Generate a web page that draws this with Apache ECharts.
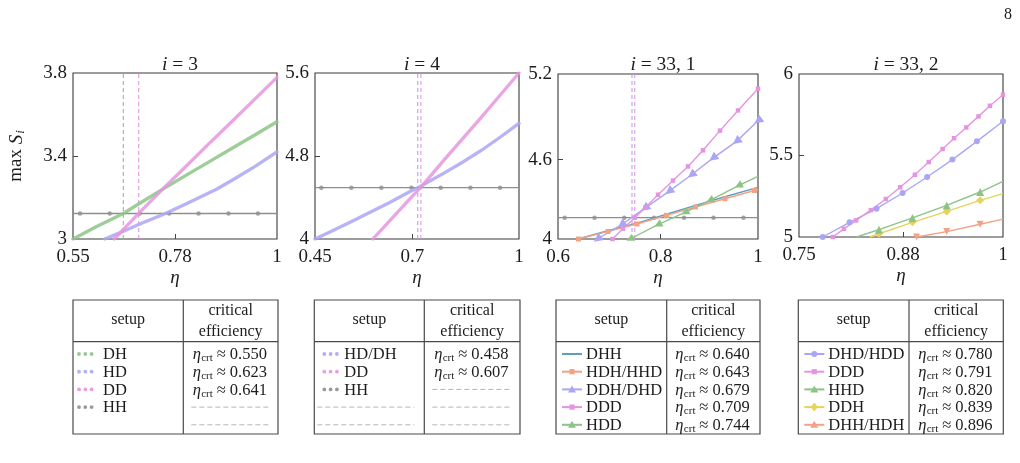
<!DOCTYPE html>
<html>
<head>
<meta charset="utf-8">
<script src="https://cdn.jsdelivr.net/npm/echarts@6/dist/echarts.min.js"></script>
<style>
  html, body { margin: 0; padding: 0; background: #fff; }
  #main { width: 1020px; height: 463px; }
</style>
</head>
<body>
<div id="main"></div>
<script>
// ---- panel i = 3 ----
const p1XTicks = [0.55, 0.775, 1];
const p1XLabels = ['0.55', '0.78', '1'];
const p1YTicks = [3, 3.4, 3.8];
const p1YLabels = ['3', '3.4', '3.8'];
const p1DHEta = [0.55, 0.60, 0.661, 0.70, 0.75, 0.80, 0.85, 0.90, 0.95, 1.0];
const p1DH = [3.0, 3.058, 3.123, 3.176, 3.243, 3.308, 3.372, 3.436, 3.50, 3.565];
const p1HDEta = [0.62, 0.65, 0.70, 0.754, 0.80, 0.8665, 0.90, 0.95, 1.0];
const p1HD = [3.0, 3.027, 3.075, 3.123, 3.17, 3.24, 3.282, 3.348, 3.42];
const p1DDEta = [0.641, 0.695, 0.75, 0.80, 0.85, 0.90, 0.95, 1.0];
const p1DD = [3.0, 3.123, 3.245, 3.352, 3.46, 3.565, 3.672, 3.779];
const p1HH = 3.123;
const p1HHMarks = [0.5655, 0.631, 0.697, 0.762, 0.827, 0.893, 0.958];
const p1Cross = [0.661, 0.695];   // green, pink

// ---- panel i = 4 ----
const p2XTicks = [0.45, 0.7125, 1];
const p2XLabels = ['0.45', '0.7', '1'];
const p2YTicks = [4, 4.8, 5.6];
const p2YLabels = ['4', '4.8', '5.6'];
const p2HDEta = [0.45, 0.5, 0.55, 0.6, 0.65, 0.7, 0.728, 0.75, 0.8, 0.85, 0.9, 0.95, 1.0];
const p2HD = [4.0, 4.085, 4.172, 4.26, 4.35, 4.445, 4.495, 4.54, 4.64, 4.745, 4.858, 4.983, 5.115];
const p2DDEta = [0.606, 0.65, 0.7, 0.7346, 0.8, 0.85, 0.9, 0.95, 1.0];
const p2DD = [4.0, 4.17, 4.365, 4.495, 4.77, 4.975, 5.18, 5.39, 5.6];
const p2HH = 4.495;
const p2HHMarks = [0.467, 0.548, 0.629, 0.71, 0.789, 0.869, 0.949];
const p2Cross = [0.727, 0.7355];  // purple, pink

// ---- panel i = 33,1 ----
const p3XTicks = [0.6, 0.805, 1];
const p3XLabels = ['0.6', '0.8', '1'];
const p3YTicks = [4, 4.577, 5.2];
const p3YLabels = ['4', '4.6', '5.2'];
const p3DHHEta = [0.64, 0.70, 0.758, 0.817, 0.875, 0.934, 1.0];
const p3DHH = [4.0, 4.06, 4.115, 4.18, 4.244, 4.307, 4.375];
const p3HDHEta = [0.641, 0.70, 0.758, 0.817, 0.875, 0.934, 0.993, 1.0];
const p3HDH = [4.0, 4.055, 4.109, 4.172, 4.233, 4.293, 4.353, 4.36];
const p3DDHEta = [0.679, 0.727, 0.774, 0.822, 0.867, 0.91, 0.957, 1.0];
const p3DDH = [4.0, 4.104, 4.225, 4.346, 4.467, 4.588, 4.71, 4.86];
const p3DDDEta = [0.709, 0.73, 0.7535, 0.775, 0.80, 0.83, 0.86, 0.89, 0.924, 0.96, 1.0];
const p3DDD = [4.0, 4.075, 4.155, 4.23, 4.322, 4.425, 4.528, 4.645, 4.788, 4.935, 5.093];
const p3HDDEta = [0.744, 0.80, 0.854, 0.904, 0.961, 1.0];
const p3HDD = [4.0, 4.104, 4.193, 4.281, 4.388, 4.455];
const p3HH = 4.155;
const p3HHMarks = [0.6134, 0.673, 0.7325, 0.792, 0.852, 0.911, 0.971];
const p3Cross = [0.748, 0.7535];  // purple, pink

// ---- panel i = 33,2 ----
const p4XTicks = [0.75, 0.8775, 1];
const p4XLabels = ['0.75', '0.88', '1'];
const p4YTicks = [5, 5.5, 6];
const p4YLabels = ['5', '5.5', '6'];
const p4DHDEta = [0.779, 0.812, 0.845, 0.877, 0.907, 0.938, 0.968, 1.0];
const p4DHD = [5.0, 5.09, 5.174, 5.27, 5.368, 5.475, 5.587, 5.71];
const p4DDDEta = [0.7915, 0.805, 0.82, 0.838, 0.8564, 0.874, 0.892, 0.909, 0.926, 0.94, 0.955, 0.97, 0.984, 1.0];
const p4DDD = [5.0, 5.05, 5.102, 5.165, 5.233, 5.305, 5.382, 5.46, 5.54, 5.606, 5.672, 5.74, 5.805, 5.873];
const p4HHDEta = [0.8204, 0.848, 0.889, 0.931, 0.972, 1.0];
const p4HHD = [5.0, 5.045, 5.117, 5.194, 5.276, 5.341];
const p4DDHEta = [0.837, 0.848, 0.889, 0.931, 0.972, 1.0];
const p4DDH = [5.0, 5.02, 5.09, 5.157, 5.225, 5.266];
const p4DHHEta = [0.894, 0.931, 0.972, 1.0];
const p4DHH = [5.0, 5.033, 5.078, 5.11];

// ---- tables ----
const t1Setup = ['DH', 'HD', 'DD', 'HH'];
const t1Crt = ['0.550', '0.623', '0.641'];
const t2Setup = ['HD/DH', 'DD', 'HH'];
const t2Crt = ['0.458', '0.607'];
const t3Setup = ['DHH', 'HDH/HHD', 'DDH/DHD', 'DDD', 'HDD'];
const t3Crt = ['0.640', '0.643', '0.679', '0.709', '0.744'];
const t4Setup = ['DHD/HDD', 'DDD', 'HHD', 'DDH', 'DHH/HDH'];
const t4Crt = ['0.780', '0.791', '0.820', '0.839', '0.896'];

const FONT = 'Liberation Serif';
const INK = '#1c1c1c';
const C = {
  green: '#8cc486', purple: '#aaa6f5', pink: '#e595df', gray: '#8e8e8e',
  orange: '#f2a285', blue: '#5f9dbf', yellow: '#e6d35c'
};

const grids = [
  { left: 73, top: 73, width: 204, height: 166 },
  { left: 315, top: 73, width: 204, height: 166 },
  { left: 558, top: 74, width: 200, height: 165 },
  { left: 799, top: 74, width: 204, height: 163 }
];

function pick(ticks, labels) {
  return function (v) {
    let best = 0;
    for (let i = 1; i < ticks.length; i++) {
      if (Math.abs(ticks[i] - v) < Math.abs(ticks[best] - v)) best = i;
    }
    return labels[best];
  };
}

function xAxis(g, ticks, labels) {
  return {
    type: 'value', gridIndex: g, min: ticks[0], max: ticks[ticks.length - 1],
    axisLine: { show: false }, splitLine: { show: false },
    axisTick: { show: true, inside: true, length: 5, customValues: [ticks[1]], lineStyle: { color: '#444' } },
    axisLabel: { customValues: ticks, formatter: pick(ticks, labels), margin: 9,
      fontFamily: FONT, fontSize: 19, color: INK },
    name: 'η', nameLocation: 'middle', nameGap: 29,
    nameTextStyle: { fontFamily: FONT, fontSize: 19, fontStyle: 'italic', color: INK }
  };
}

function yAxis(g, ticks, labels, name) {
  const ax = {
    type: 'value', gridIndex: g, min: ticks[0], max: ticks[ticks.length - 1],
    axisLine: { show: false }, splitLine: { show: false },
    axisTick: { show: true, inside: true, length: 5, customValues: [ticks[1]], lineStyle: { color: '#444' } },
    axisLabel: { customValues: ticks, formatter: pick(ticks, labels), margin: 6,
      fontFamily: FONT, fontSize: 19, color: INK }
  };
  if (name) {
    ax.name = 'max {s|S}{i|i}';
    ax.nameLocation = 'middle';
    ax.nameGap = 46;
    ax.nameTextStyle = {
      fontFamily: FONT, fontSize: 19, color: INK,
      rich: {
        s: { fontFamily: FONT, fontSize: 19, fontStyle: 'italic', color: INK },
        i: { fontFamily: FONT, fontSize: 13, fontStyle: 'italic', color: INK, padding: [8, 0, 0, 1] }
      }
    };
  }
  return ax;
}

function pts(eta, s, bareFirst, bareLast) {
  return eta.map((x, i) => {
    const item = { value: [x, s[i]] };
    if ((i === 0 && bareFirst) || (i === eta.length - 1 && bareLast)) item.symbol = 'none';
    return item;
  });
}

// dashed vertical at a crossing value, spanning the panel height
function vline(g, x, yTicks, color) {
  return {
    type: 'line', xAxisIndex: g, yAxisIndex: g, silent: true,
    data: [[x, yTicks[0]], [x, yTicks[yTicks.length - 1]]], symbol: 'none', z: 1,
    lineStyle: { color: color, width: 1.1, type: [4, 3] }
  };
}

// thick dotted-look curves for i = 3 and i = 4
function thick(g, eta, s, color) {
  return {
    type: 'line', xAxisIndex: g, yAxisIndex: g, data: pts(eta, s),
    symbol: 'none', z: 3,
    lineStyle: { color: color, width: 3.3, opacity: 0.85, cap: 'round', join: 'round' }
  };
}

function marked(g, eta, s, color, symbol, size, opts) {
  opts = opts || {};
  return {
    type: 'line', xAxisIndex: g, yAxisIndex: g,
    data: pts(eta, s, opts.bareFirst, opts.bareLast),
    symbol: symbol, symbolSize: size,
    symbolRotate: opts.rotate || 0, showSymbol: symbol !== 'none', z: opts.z || 4,
    lineStyle: { color: color, width: 1.4, join: 'round' },
    itemStyle: { color: color }
  };
}

function hh(g, level, marks, min, max) {
  return [
    { type: 'line', xAxisIndex: g, yAxisIndex: g, data: [[min, level], [max, level]],
      symbol: 'none', z: 2, lineStyle: { color: C.gray, width: 1.3 } },
    { type: 'scatter', xAxisIndex: g, yAxisIndex: g, data: marks.map(x => [x, level]),
      symbol: 'circle', symbolSize: 4.5, z: 2, itemStyle: { color: C.gray } }
  ];
}

const series = [];
// panel 1
series.push(...hh(0, p1HH, p1HHMarks, 0.55, 1));
series.push(vline(0, p1Cross[0], p1YTicks, C.green), vline(0, p1Cross[1], p1YTicks, C.pink));
series.push(thick(0, p1DHEta, p1DH, C.green), thick(0, p1HDEta, p1HD, C.purple), thick(0, p1DDEta, p1DD, C.pink));
// panel 2
series.push(...hh(1, p2HH, p2HHMarks, 0.45, 1));
series.push(vline(1, p2Cross[0], p2YTicks, C.purple), vline(1, p2Cross[1], p2YTicks, C.pink));
series.push(thick(1, p2HDEta, p2HD, C.purple), thick(1, p2DDEta, p2DD, C.pink));
// panel 3
series.push(...hh(2, p3HH, p3HHMarks, 0.6, 1));
series.push(vline(2, p3Cross[0], p3YTicks, C.purple), vline(2, p3Cross[1], p3YTicks, C.pink));
series.push(marked(2, p3DHHEta, p3DHH, C.blue, 'none', 0));
series.push(marked(2, p3HDHEta, p3HDH, C.orange, 'rect', 5, { bareLast: true }));
series.push(marked(2, p3DDHEta, p3DDH, C.purple, 'triangle', 9, { rotate: 127 }));
series.push(marked(2, p3DDDEta, p3DDD, C.pink, 'rect', 4.5));
series.push(marked(2, p3HDDEta, p3HDD, C.green, 'triangle', 8, { bareLast: true, rotate: 116 }));
// panel 4
series.push(marked(3, p4DHHEta, p4DHH, C.orange, 'triangle', 7, { bareLast: true, rotate: 180 }));
series.push(marked(3, p4DDHEta, p4DDH, C.yellow, 'diamond', 8, { bareFirst: true, bareLast: true }));
series.push(marked(3, p4HHDEta, p4HHD, C.green, 'triangle', 8, { bareFirst: true, bareLast: true }));
series.push(marked(3, p4DHDEta, p4DHD, C.purple, 'circle', 6));
series.push(marked(3, p4DDDEta, p4DDD, C.pink, 'rect', 4.5));

const titles = [
  { text: '{i|i} = 3', x: 175 },
  { text: '{i|i} = 4', x: 417 },
  { text: '{i|i} = 33, 1', x: 658 },
  { text: '{i|i} = 33, 2', x: 901 }
].map(t => ({
  text: t.text, left: t.x, top: 50, textAlign: 'center',
  textStyle: { fontFamily: FONT, fontSize: 19.5, fontWeight: 'normal', color: INK,
    rich: { i: { fontFamily: FONT, fontSize: 19.5, fontStyle: 'italic', color: INK } } }
}));

// ---- table drawing ----
const graphic = [];
function txt(x, y, text, size, align, italic, color) {
  graphic.push({ type: 'text', x: x, y: y, silent: true,
    style: { text: text, fill: color || INK, fontFamily: FONT, fontSize: size,
      fontStyle: italic ? 'italic' : 'normal', textAlign: align || 'left', textVerticalAlign: 'middle' } });
}
function seg(x1, y1, x2, y2, color, width, dash) {
  graphic.push({ type: 'line', silent: true, shape: { x1: x1, y1: y1, x2: x2, y2: y2 },
    style: { stroke: color, lineWidth: width, lineDash: dash || null } });
}
function marker(kind, cx, cy, color) {
  let el;
  if (kind === 'circle') el = { type: 'circle', shape: { cx: cx, cy: cy, r: 3 } };
  else if (kind === 'rect') el = { type: 'rect', shape: { x: cx - 2.6, y: cy - 2.6, width: 5.2, height: 5.2 } };
  else if (kind === 'triangle') el = { type: 'polygon', shape: { points: [[cx, cy - 4], [cx - 4, cy + 3], [cx + 4, cy + 3]] } };
  else if (kind === 'diamond') el = { type: 'polygon', shape: { points: [[cx, cy - 4.5], [cx - 3.5, cy], [cx, cy + 4.5], [cx + 3.5, cy]] } };
  else return;
  el.silent = true;
  el.style = { fill: color };
  graphic.push(el);
}

const ROW0 = 354, ROWH = 17.7, TOP = 300, BOT = 434, HEAD = 341.7;
function table(x0, x1, xd, setups, icons, crts, iconX, blankL, blankR) {
  graphic.push({ type: 'rect', silent: true, shape: { x: x0, y: TOP, width: x1 - x0, height: BOT - TOP },
    style: { fill: 'none', stroke: '#4a4a4a', lineWidth: 1.2 } });
  seg(xd, TOP, xd, BOT, '#4a4a4a', 1.2);
  seg(x0, HEAD, x1, HEAD, '#4a4a4a', 1.2);
  txt((x0 + xd) / 2, 320, 'setup', 16, 'center');
  txt((xd + x1) / 2, 311, 'critical', 16, 'center');
  txt((xd + x1) / 2, 332, 'efficiency', 16, 'center');
  setups.forEach((name, k) => {
    const y = ROW0 + k * ROWH;
    const ic = icons[k];
    if (ic.dots) {
      for (let d = 0; d < 3; d++) {
        graphic.push({ type: 'circle', silent: true, shape: { cx: x0 + iconX + 1.5 + d * 6.3, cy: y, r: 1.9 },
          style: { fill: ic.color, opacity: 0.9 } });
      }
    } else {
      seg(x0 + iconX, y, x0 + iconX + 20, y, ic.color, 2);
      marker(ic.mark, x0 + iconX + 10, y, ic.color);
    }
    txt(x0 + 30, y + 1, name, 16.5, 'left');
  });
  const cx = (xd + x1) / 2;
  crts.forEach((v, k) => {
    const y = ROW0 + k * ROWH;
    const sx = cx - 38;
    txt(sx, y + 1, 'η', 16.5, 'left', true);
    txt(sx + 8.5, y + 4.5, 'crt', 11, 'left');
    txt(sx + 24, y + 1, '≈ ' + v, 16.5, 'left');
  });
  blankL.forEach(k => {
    const y = ROW0 + k * ROWH;
    seg(x0 + 3, y, xd - 10, y, '#b4b4b4', 1, [5, 3]);
  });
  blankR.forEach(k => {
    const y = ROW0 + k * ROWH;
    seg(xd + 8, y, x1 - 9, y, '#b4b4b4', 1, [5, 3]);
  });
}

table(73, 278, 183.3, t1Setup,
  [{ dots: 1, color: C.green }, { dots: 1, color: C.purple }, { dots: 1, color: C.pink }, { dots: 1, color: C.gray }],
  t1Crt, 4.5, [], [3, 4]);
table(314.3, 520, 424.3, t2Setup,
  [{ dots: 1, color: C.purple }, { dots: 1, color: C.pink }, { dots: 1, color: C.gray }],
  t2Crt, 8.5, [3, 4], [2, 3, 4]);
table(556, 760, 666.7, t3Setup,
  [{ color: C.blue, mark: 'none' }, { color: C.orange, mark: 'rect' }, { color: C.purple, mark: 'triangle' },
   { color: C.pink, mark: 'rect' }, { color: C.green, mark: 'triangle' }],
  t3Crt, 6, [], []);
table(798.3, 1003.3, 909, t4Setup,
  [{ color: C.purple, mark: 'circle' }, { color: C.pink, mark: 'rect' }, { color: C.green, mark: 'triangle' },
   { color: C.yellow, mark: 'diamond' }, { color: C.orange, mark: 'triangle' }],
  t4Crt, 6, [], []);

// page number
txt(1008, 15, '8', 16, 'center');

const chart = echarts.init(document.getElementById('main'));
chart.setOption({
  animation: false,
  backgroundColor: '#fff',
  title: titles,
  grid: grids.map(g => Object.assign({ show: true, borderColor: '#3a3a3a', borderWidth: 1.1, backgroundColor: 'transparent' }, g)),
  xAxis: [xAxis(0, p1XTicks, p1XLabels), xAxis(1, p2XTicks, p2XLabels), xAxis(2, p3XTicks, p3XLabels), xAxis(3, p4XTicks, p4XLabels)],
  yAxis: [yAxis(0, p1YTicks, p1YLabels, true), yAxis(1, p2YTicks, p2YLabels), yAxis(2, p3YTicks, p3YLabels), yAxis(3, p4YTicks, p4YLabels)],
  series: series,
  graphic: graphic
});
</script>
</body>
</html>
